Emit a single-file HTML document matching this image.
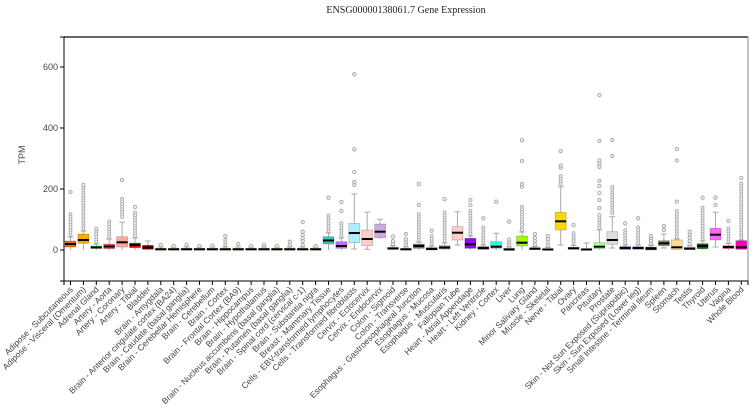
<!DOCTYPE html>
<html><head><meta charset="utf-8"><style>
html,body{margin:0;padding:0;background:#fff}
svg{display:block}
.w{stroke:#aaa;stroke-width:1;fill:none}
.m{stroke:#000;stroke-width:2;fill:none}
.o{stroke:#a8a8a8;stroke-width:3.8;stroke-linecap:round;stroke-dasharray:0 2.6;fill:none}
.oi{stroke:#ececec;stroke-width:2.2;stroke-linecap:round;stroke-dasharray:0 2.6;fill:none}
circle{fill:#ececec;stroke:#a8a8a8;stroke-width:0.9}
rect{stroke:rgba(0,0,0,0.25);stroke-width:0.7}
.t{stroke:#000;stroke-width:1;fill:none}
text.x{font-family:"Liberation Sans",sans-serif;font-size:8.5px;fill:#444;text-anchor:end}
text.y{font-family:"Liberation Sans",sans-serif;font-size:9px;fill:#444;text-anchor:end}
</style></head><body>
<svg width="754" height="413" viewBox="0 0 754 413" xmlns="http://www.w3.org/2000/svg">
<rect x="0" y="0" width="754" height="413" fill="#fff" style="stroke:none"/>
<text x="406" y="13" text-anchor="middle" style="font-family:'Liberation Serif',serif;font-size:10px;fill:#222">ENSG00000138061.7 Gene Expression</text>
<line x1="64" y1="37" x2="748" y2="37" stroke="#333" stroke-width="1.5"/>
<line x1="748" y1="37" x2="748" y2="281" stroke="#888" stroke-width="1"/>
<path class="t" d="M60 37H64V281H60M60 250H64M60 189H64M60 128H64M60 67H64"/>
<path class="t" d="M64 285V281H748V285"/>
<text class="y" x="58" y="253">0</text>
<text class="y" x="58" y="192">200</text>
<text class="y" x="58" y="131">400</text>
<text class="y" x="58" y="70">600</text>
<text transform="translate(25,155) rotate(-90)" text-anchor="middle" style="font-family:'Liberation Sans',sans-serif;font-size:9px;fill:#444">TPM</text>

<g transform="translate(70.5,0)"><path class="t" d="M0 281V285"/><path class="w" d="M0 237V241M0 247V250M-3 237H3"/><rect x="-5.5" y="241" width="11" height="6" fill="#FF6600"/><path class="m" d="M-5.5 244H5.5"/><path class="o" d="M0 235V213"/><path class="oi" d="M0 235V213"/><circle r="1.7" cx="0" cy="192"/><text class="x" transform="translate(3,290) rotate(-45)">Adipose - Subcutaneous</text></g>
<g transform="translate(83.4,0)"><path class="t" d="M0 281V285"/><path class="w" d="M0 231V234M0 243.3V250M-3 231H3"/><rect x="-5.5" y="234" width="11" height="9.3" fill="#FFAA00"/><path class="m" d="M-5.5 240H5.5"/><path class="o" d="M0 229V187"/><path class="oi" d="M0 229V187"/><circle r="1.7" cx="0" cy="185"/><text class="x" transform="translate(3,290) rotate(-45)">Adipose - Visceral (Omentum)</text></g>
<g transform="translate(96.3,0)"><path class="t" d="M0 281V285"/><path class="w" d="M0 244V246M0 248.3V250M-3 244H3"/><rect x="-5.5" y="246" width="11" height="2.3" fill="#33DD33"/><path class="m" d="M-5.5 247.5H5.5"/><path class="o" d="M0 242V231"/><path class="oi" d="M0 242V231"/><circle r="1.7" cx="0" cy="229"/><text class="x" transform="translate(3,290) rotate(-45)">Adrenal Gland</text></g>
<g transform="translate(109.2,0)"><path class="t" d="M0 281V285"/><path class="w" d="M0 239V244M0 248.7V250M-3 239H3"/><rect x="-5.5" y="244" width="11" height="4.7" fill="#FF5555"/><path class="m" d="M-5.5 246.5H5.5"/><path class="o" d="M0 237V219"/><path class="oi" d="M0 237V219"/><text class="x" transform="translate(3,290) rotate(-45)">Artery - Aorta</text></g>
<g transform="translate(122.1,0)"><path class="t" d="M0 281V285"/><path class="w" d="M0 222.3V236.7M0 247V250M-3 222.3H3"/><rect x="-5.5" y="236.7" width="11" height="10.3" fill="#FFAA99"/><path class="m" d="M-5.5 242.3H5.5"/><path class="o" d="M0 217V197"/><path class="oi" d="M0 217V197"/><circle r="1.7" cx="0" cy="180"/><text class="x" transform="translate(3,290) rotate(-45)">Artery - Coronary</text></g>
<g transform="translate(135,0)"><path class="t" d="M0 281V285"/><path class="w" d="M0 238V243M0 247.7V250M-3 238H3"/><rect x="-5.5" y="243" width="11" height="4.7" fill="#FF0000"/><path class="m" d="M-5.5 245H5.5"/><path class="o" d="M0 236V212"/><path class="oi" d="M0 236V212"/><circle r="1.7" cx="0" cy="207"/><text class="x" transform="translate(3,290) rotate(-45)">Artery - Tibial</text></g>
<g transform="translate(147.9,0)"><path class="t" d="M0 281V285"/><path class="w" d="M0 241V245.3M0 249.3V250M-3 241H3"/><rect x="-5.5" y="245.3" width="11" height="4" fill="#AA0000"/><path class="m" d="M-5.5 247.5H5.5"/><text class="x" transform="translate(3,290) rotate(-45)">Bladder</text></g>

<g transform="translate(160.8,0)"><path class="t" d="M0 281V285"/><path class="w" d="M0 247V248.3M-3 247H3"/><rect x="-5.5" y="248.3" width="11" height="1.7" fill="#EEEE00"/><path class="m" d="M-5.5 249.3H5.5"/><circle r="1.7" cx="0" cy="245"/><text class="x" transform="translate(3,290) rotate(-45)">Brain - Amygdala</text></g>
<g transform="translate(173.7,0)"><path class="t" d="M0 281V285"/><path class="w" d="M0 247V248.3M-3 247H3"/><rect x="-5.5" y="248.3" width="11" height="1.7" fill="#EEEE00"/><path class="m" d="M-5.5 249.3H5.5"/><circle r="1.7" cx="0" cy="246"/><text class="x" transform="translate(3,290) rotate(-45)">Brain - Anterior cingulate cortex (BA24)</text></g>
<g transform="translate(186.6,0)"><path class="t" d="M0 281V285"/><path class="w" d="M0 247V248.3M-3 247H3"/><rect x="-5.5" y="248.3" width="11" height="1.7" fill="#EEEE00"/><path class="m" d="M-5.5 249.3H5.5"/><circle r="1.7" cx="0" cy="244.7"/><text class="x" transform="translate(3,290) rotate(-45)">Brain - Caudate (basal ganglia)</text></g>
<g transform="translate(199.5,0)"><path class="t" d="M0 281V285"/><path class="w" d="M0 247V248.3M-3 247H3"/><rect x="-5.5" y="248.3" width="11" height="1.7" fill="#EEEE00"/><path class="m" d="M-5.5 249.3H5.5"/><circle r="1.7" cx="0" cy="246"/><text class="x" transform="translate(3,290) rotate(-45)">Brain - Cerebellar Hemisphere</text></g>
<g transform="translate(212.4,0)"><path class="t" d="M0 281V285"/><path class="w" d="M0 247V248.3M-3 247H3"/><rect x="-5.5" y="248.3" width="11" height="1.7" fill="#EEEE00"/><path class="m" d="M-5.5 249.3H5.5"/><circle r="1.7" cx="0" cy="245.5"/><text class="x" transform="translate(3,290) rotate(-45)">Brain - Cerebellum</text></g>
<g transform="translate(225.3,0)"><path class="t" d="M0 281V285"/><path class="w" d="M0 247V248.3M-3 247H3"/><rect x="-5.5" y="248.3" width="11" height="1.7" fill="#EEEE00"/><path class="m" d="M-5.5 249.3H5.5"/><path class="o" d="M0 245V238"/><path class="oi" d="M0 245V238"/><circle r="1.7" cx="0" cy="236"/><text class="x" transform="translate(3,290) rotate(-45)">Brain - Cortex</text></g>
<g transform="translate(238.2,0)"><path class="t" d="M0 281V285"/><path class="w" d="M0 247V248.3M-3 247H3"/><rect x="-5.5" y="248.3" width="11" height="1.7" fill="#EEEE00"/><path class="m" d="M-5.5 249.3H5.5"/><circle r="1.7" cx="0" cy="244"/><text class="x" transform="translate(3,290) rotate(-45)">Brain - Frontal Cortex (BA9)</text></g>
<g transform="translate(251.1,0)"><path class="t" d="M0 281V285"/><path class="w" d="M0 247V248.3M-3 247H3"/><rect x="-5.5" y="248.3" width="11" height="1.7" fill="#EEEE00"/><path class="m" d="M-5.5 249.3H5.5"/><circle r="1.7" cx="0" cy="246"/><text class="x" transform="translate(3,290) rotate(-45)">Brain - Hippocampus</text></g>
<g transform="translate(264,0)"><path class="t" d="M0 281V285"/><path class="w" d="M0 247V248.3M-3 247H3"/><rect x="-5.5" y="248.3" width="11" height="1.7" fill="#EEEE00"/><path class="m" d="M-5.5 249.3H5.5"/><circle r="1.7" cx="0" cy="245"/><text class="x" transform="translate(3,290) rotate(-45)">Brain - Hypothalamus</text></g>
<g transform="translate(276.9,0)"><path class="t" d="M0 281V285"/><path class="w" d="M0 247V248.3M-3 247H3"/><rect x="-5.5" y="248.3" width="11" height="1.7" fill="#EEEE00"/><path class="m" d="M-5.5 249.3H5.5"/><circle r="1.7" cx="0" cy="246"/><text class="x" transform="translate(3,290) rotate(-45)">Brain - Nucleus accumbens (basal ganglia)</text></g>
<g transform="translate(289.8,0)"><path class="t" d="M0 281V285"/><path class="w" d="M0 247V248.3M-3 247H3"/><rect x="-5.5" y="248.3" width="11" height="1.7" fill="#EEEE00"/><path class="m" d="M-5.5 249.3H5.5"/><circle r="1.7" cx="0" cy="245"/><circle r="1.7" cx="0" cy="241.7"/><text class="x" transform="translate(3,290) rotate(-45)">Brain - Putamen (basal ganglia)</text></g>
<g transform="translate(302.7,0)"><path class="t" d="M0 281V285"/><path class="w" d="M0 247V248.3M-3 247H3"/><rect x="-5.5" y="248.3" width="11" height="1.7" fill="#EEEE00"/><path class="m" d="M-5.5 249.3H5.5"/><circle r="1.7" cx="0" cy="245"/><circle r="1.7" cx="0" cy="241"/><circle r="1.7" cx="0" cy="238"/><circle r="1.7" cx="0" cy="235"/><circle r="1.7" cx="0" cy="231.7"/><circle r="1.7" cx="0" cy="222"/><text class="x" transform="translate(3,290) rotate(-45)">Brain - Spinal cord (cervical c-1)</text></g>
<g transform="translate(315.6,0)"><path class="t" d="M0 281V285"/><path class="w" d="M0 247V248.3M-3 247H3"/><rect x="-5.5" y="248.3" width="11" height="1.7" fill="#EEEE00"/><path class="m" d="M-5.5 249.3H5.5"/><circle r="1.7" cx="0" cy="246"/><text class="x" transform="translate(3,290) rotate(-45)">Brain - Substantia nigra</text></g>

<g transform="translate(328.5,0)"><path class="t" d="M0 281V285"/><path class="w" d="M0 233V236.7M0 244V250M-3 233H3"/><rect x="-5.5" y="236.7" width="11" height="7.3" fill="#33CCCC"/><path class="m" d="M-5.5 240.5H5.5"/><path class="o" d="M0 231V214"/><path class="oi" d="M0 231V214"/><circle r="1.7" cx="0" cy="197.7"/><text class="x" transform="translate(3,290) rotate(-45)">Breast - Mammary Tissue</text></g>
<g transform="translate(341.4,0)"><path class="t" d="M0 281V285"/><path class="w" d="M0 238V241.7M0 248.3V250M-3 238H3"/><rect x="-5.5" y="241.7" width="11" height="6.6" fill="#CC66FF"/><path class="m" d="M-5.5 246H5.5"/><path class="o" d="M0 236V223"/><path class="oi" d="M0 236V223"/><circle r="1.7" cx="0" cy="211"/><circle r="1.7" cx="0" cy="202"/><text class="x" transform="translate(3,290) rotate(-45)">Cells - EBV-transformed lymphocytes</text></g>
<g transform="translate(354.3,0)"><path class="t" d="M0 281V285"/><path class="w" d="M0 194V223.3M0 242.7V249M-3 194H3M-3 249H3"/><rect x="-5.5" y="223.3" width="11" height="19.4" fill="#AAEEFF"/><path class="m" d="M-5.5 233H5.5"/><circle r="1.7" cx="0" cy="185"/><circle r="1.7" cx="0" cy="182"/><circle r="1.7" cx="0" cy="172"/><circle r="1.7" cx="0" cy="149.3"/><circle r="1.7" cx="0" cy="74.3"/><text class="x" transform="translate(3,290) rotate(-45)">Cells - Transformed fibroblasts</text></g>
<g transform="translate(367.2,0)"><path class="t" d="M0 281V285"/><path class="w" d="M0 212.3V230M0 245.7V249.3M-3 212.3H3M-3 249.3H3"/><rect x="-5.5" y="230" width="11" height="15.7" fill="#FFCCCC"/><path class="m" d="M-5.5 239H5.5"/><text class="x" transform="translate(3,290) rotate(-45)">Cervix - Ectocervix</text></g>
<g transform="translate(380.1,0)"><path class="t" d="M0 281V285"/><path class="w" d="M0 219.3V224M0 237.7V239M-3 219.3H3"/><rect x="-5.5" y="224" width="11" height="13.7" fill="#CCAADD"/><path class="m" d="M-5.5 231.7H5.5"/><text class="x" transform="translate(3,290) rotate(-45)">Cervix - Endocervix</text></g>
<g transform="translate(393,0)"><path class="t" d="M0 281V285"/><path class="w" d="M0 246V247.3M-3 246H3"/><rect x="-5.5" y="247.3" width="11" height="2" fill="#EEBB77"/><path class="m" d="M-5.5 248.5H5.5"/><circle r="1.7" cx="0" cy="244"/><circle r="1.7" cx="0" cy="241"/><circle r="1.7" cx="0" cy="236.5"/><text class="x" transform="translate(3,290) rotate(-45)">Colon - Sigmoid</text></g>
<g transform="translate(405.9,0)"><path class="t" d="M0 281V285"/><path class="w" d="M0 247V248.5M-3 247H3"/><rect x="-5.5" y="248.5" width="11" height="1.5" fill="#CC9955"/><path class="m" d="M-5.5 249.3H5.5"/><circle r="1.7" cx="0" cy="245"/><circle r="1.7" cx="0" cy="242"/><circle r="1.7" cx="0" cy="239"/><circle r="1.7" cx="0" cy="234"/><text class="x" transform="translate(3,290) rotate(-45)">Colon - Transverse</text></g>
<g transform="translate(418.8,0)"><path class="t" d="M0 281V285"/><path class="w" d="M0 242V244M0 248.3V250M-3 242H3"/><rect x="-5.5" y="244" width="11" height="4.3" fill="#8B7355"/><path class="m" d="M-5.5 246H5.5"/><path class="o" d="M0 240V212"/><path class="oi" d="M0 240V212"/><circle r="1.7" cx="0" cy="205"/><circle r="1.7" cx="0" cy="184"/><text class="x" transform="translate(3,290) rotate(-45)">Esophagus - Gastroesophageal Junction</text></g>
<g transform="translate(431.7,0)"><path class="t" d="M0 281V285"/><path class="w" d="M0 246V247.7M-3 246H3"/><rect x="-5.5" y="247.7" width="11" height="2.3" fill="#552200"/><path class="m" d="M-5.5 249H5.5"/><path class="o" d="M0 244V236"/><path class="oi" d="M0 244V236"/><circle r="1.7" cx="0" cy="230.7"/><text class="x" transform="translate(3,290) rotate(-45)">Esophagus - Mucosa</text></g>
<g transform="translate(444.6,0)"><path class="t" d="M0 281V285"/><path class="w" d="M0 243V245.7M0 249V250M-3 243H3"/><rect x="-5.5" y="245.7" width="11" height="3.3" fill="#BB9988"/><path class="m" d="M-5.5 247.5H5.5"/><path class="o" d="M0 241V210"/><path class="oi" d="M0 241V210"/><circle r="1.7" cx="0" cy="199"/><text class="x" transform="translate(3,290) rotate(-45)">Esophagus - Muscularis</text></g>
<g transform="translate(457.5,0)"><path class="t" d="M0 281V285"/><path class="w" d="M0 211.7V226.7M0 240V245M-3 211.7H3M-3 245H3"/><rect x="-5.5" y="226.7" width="11" height="13.3" fill="#FFCCCC"/><path class="m" d="M-5.5 232.7H5.5"/><text class="x" transform="translate(3,290) rotate(-45)">Fallopian Tube</text></g>
<g transform="translate(470.4,0)"><path class="t" d="M0 281V285"/><path class="w" d="M0 236V238.3M0 248.3V250M-3 236H3"/><rect x="-5.5" y="238.3" width="11" height="10" fill="#9900FF"/><path class="m" d="M-5.5 244.3H5.5"/><path class="o" d="M0 234V210"/><path class="oi" d="M0 234V210"/><circle r="1.7" cx="0" cy="205"/><circle r="1.7" cx="0" cy="200"/><text class="x" transform="translate(3,290) rotate(-45)">Heart - Atrial Appendage</text></g>
<g transform="translate(483.3,0)"><path class="t" d="M0 281V285"/><path class="w" d="M0 245V246.7M-3 245H3"/><rect x="-5.5" y="246.7" width="11" height="2.6" fill="#660099"/><path class="m" d="M-5.5 248H5.5"/><path class="o" d="M0 243V225"/><path class="oi" d="M0 243V225"/><circle r="1.7" cx="0" cy="218.3"/><text class="x" transform="translate(3,290) rotate(-45)">Heart - Left Ventricle</text></g>
<g transform="translate(496.2,0)"><path class="t" d="M0 281V285"/><path class="w" d="M0 233.3V241.7M0 248.3V250M-3 233.3H3"/><rect x="-5.5" y="241.7" width="11" height="6.6" fill="#22FFDD"/><path class="m" d="M-5.5 246.7H5.5"/><circle r="1.7" cx="0" cy="201.7"/><text class="x" transform="translate(3,290) rotate(-45)">Kidney - Cortex</text></g>
<g transform="translate(509.1,0)"><path class="t" d="M0 281V285"/><path class="w" d="M0 247V248.3M-3 247H3"/><rect x="-5.5" y="248.3" width="11" height="1.7" fill="#AABB66"/><path class="m" d="M-5.5 249.5H5.5"/><circle r="1.7" cx="0" cy="245"/><circle r="1.7" cx="0" cy="242"/><circle r="1.7" cx="0" cy="239.5"/><circle r="1.7" cx="0" cy="221.7"/><text class="x" transform="translate(3,290) rotate(-45)">Liver</text></g>
<g transform="translate(522,0)"><path class="t" d="M0 281V285"/><path class="w" d="M0 232V236M0 246V250M-3 232H3"/><rect x="-5.5" y="236" width="11" height="10" fill="#99FF00"/><path class="m" d="M-5.5 242.7H5.5"/><path class="o" d="M0 230V205"/><path class="oi" d="M0 230V205"/><circle r="1.7" cx="0" cy="186.7"/><circle r="1.7" cx="0" cy="184"/><circle r="1.7" cx="0" cy="161"/><circle r="1.7" cx="0" cy="140.3"/><text class="x" transform="translate(3,290) rotate(-45)">Lung</text></g>
<g transform="translate(534.9,0)"><path class="t" d="M0 281V285"/><path class="w" d="M0 246.5V247.7M-3 246.5H3"/><rect x="-5.5" y="247.7" width="11" height="2" fill="#99BB88"/><path class="m" d="M-5.5 248.7H5.5"/><circle r="1.7" cx="0" cy="244.5"/><circle r="1.7" cx="0" cy="241"/><circle r="1.7" cx="0" cy="238"/><circle r="1.7" cx="0" cy="234"/><text class="x" transform="translate(3,290) rotate(-45)">Minor Salivary Gland</text></g>
<g transform="translate(547.8,0)"><path class="t" d="M0 281V285"/><path class="w" d="M0 247.5V248.7M-3 247.5H3"/><rect x="-5.5" y="248.7" width="11" height="1.3" fill="#AAAAFF"/><path class="m" d="M-5.5 249.5H5.5"/><circle r="1.7" cx="0" cy="245.5"/><circle r="1.7" cx="0" cy="242"/><circle r="1.7" cx="0" cy="239"/><circle r="1.7" cx="0" cy="236"/><text class="x" transform="translate(3,290) rotate(-45)">Muscle - Skeletal</text></g>
<g transform="translate(560.7,0)"><path class="t" d="M0 281V285"/><path class="w" d="M0 186.7V212.3M0 230V245M-3 186.7H3M-3 245H3"/><rect x="-5.5" y="212.3" width="11" height="17.7" fill="#FFD700"/><path class="m" d="M-5.5 221.3H5.5"/><path class="o" d="M0 184V174"/><path class="oi" d="M0 184V174"/><circle r="1.7" cx="0" cy="168"/><circle r="1.7" cx="0" cy="165.5"/><circle r="1.7" cx="0" cy="151"/><text class="x" transform="translate(3,290) rotate(-45)">Nerve - Tibial</text></g>
<g transform="translate(573.6,0)"><path class="t" d="M0 281V285"/><path class="w" d="M0 245.5V247.3M-3 245.5H3"/><rect x="-5.5" y="247.3" width="11" height="2" fill="#FFAAFF"/><path class="m" d="M-5.5 248.3H5.5"/><path class="o" d="M0 243.5V231"/><path class="oi" d="M0 243.5V231"/><circle r="1.7" cx="0" cy="225"/><text class="x" transform="translate(3,290) rotate(-45)">Ovary</text></g>
<g transform="translate(586.5,0)"><path class="t" d="M0 281V285"/><path class="w" d="M0 243V248.7M-3 243H3"/><rect x="-5.5" y="248.7" width="11" height="1.3" fill="#995522"/><path class="m" d="M-5.5 249.5H5.5"/><text class="x" transform="translate(3,290) rotate(-45)">Pancreas</text></g>
<g transform="translate(599.4,0)"><path class="t" d="M0 281V285"/><path class="w" d="M0 230V242.7M0 248.7V250M-3 230H3"/><rect x="-5.5" y="242.7" width="11" height="6" fill="#AAFF99"/><path class="m" d="M-5.5 246.7H5.5"/><path class="o" d="M0 228V213"/><path class="oi" d="M0 228V213"/><circle r="1.7" cx="0" cy="208"/><circle r="1.7" cx="0" cy="200"/><circle r="1.7" cx="0" cy="193"/><circle r="1.7" cx="0" cy="186"/><circle r="1.7" cx="0" cy="181"/><circle r="1.7" cx="0" cy="167"/><circle r="1.7" cx="0" cy="163.5"/><circle r="1.7" cx="0" cy="160.5"/><circle r="1.7" cx="0" cy="141"/><circle r="1.7" cx="0" cy="95"/><text class="x" transform="translate(3,290) rotate(-45)">Pituitary</text></g>
<g transform="translate(612.3,0)"><path class="t" d="M0 281V285"/><path class="w" d="M0 216.7V231.7M0 244.3V248M-3 216.7H3M-3 248H3"/><rect x="-5.5" y="231.7" width="11" height="12.6" fill="#DDDDDD"/><path class="m" d="M-5.5 240H5.5"/><path class="o" d="M0 213V187"/><path class="oi" d="M0 213V187"/><circle r="1.7" cx="0" cy="156"/><circle r="1.7" cx="0" cy="140"/><text class="x" transform="translate(3,290) rotate(-45)">Prostate</text></g>
<g transform="translate(625.2,0)"><path class="t" d="M0 281V285"/><path class="w" d="M0 245V246.7M-3 245H3"/><rect x="-5.5" y="246.7" width="11" height="2.6" fill="#0000FF"/><path class="m" d="M-5.5 248H5.5"/><path class="o" d="M0 243V229"/><path class="oi" d="M0 243V229"/><circle r="1.7" cx="0" cy="223.3"/><text class="x" transform="translate(3,290) rotate(-45)">Skin - Not Sun Exposed (Suprapubic)</text></g>
<g transform="translate(638.1,0)"><path class="t" d="M0 281V285"/><path class="w" d="M0 245V246.7M-3 245H3"/><rect x="-5.5" y="246.7" width="11" height="2.6" fill="#7777FF"/><path class="m" d="M-5.5 248H5.5"/><path class="o" d="M0 243V225"/><path class="oi" d="M0 243V225"/><circle r="1.7" cx="0" cy="218.3"/><text class="x" transform="translate(3,290) rotate(-45)">Skin - Sun Exposed (Lower leg)</text></g>
<g transform="translate(651,0)"><path class="t" d="M0 281V285"/><path class="w" d="M0 245.5V247M-3 245.5H3"/><rect x="-5.5" y="247" width="11" height="3" fill="#555522"/><path class="m" d="M-5.5 248.5H5.5"/><circle r="1.7" cx="0" cy="243.5"/><circle r="1.7" cx="0" cy="240.5"/><circle r="1.7" cx="0" cy="238"/><circle r="1.7" cx="0" cy="236"/><text class="x" transform="translate(3,290) rotate(-45)">Small Intestine - Terminal Ileum</text></g>
<g transform="translate(663.9,0)"><path class="t" d="M0 281V285"/><path class="w" d="M0 234V240.7M0 245.7V248M-3 234H3M-3 248H3"/><rect x="-5.5" y="240.7" width="11" height="5" fill="#778855"/><path class="m" d="M-5.5 243.3H5.5"/><circle r="1.7" cx="0" cy="230"/><circle r="1.7" cx="0" cy="226"/><text class="x" transform="translate(3,290) rotate(-45)">Spleen</text></g>
<g transform="translate(676.8,0)"><path class="t" d="M0 281V285"/><path class="w" d="M0 239V240M0 249.3V250M-3 239H3"/><rect x="-5.5" y="240" width="11" height="9.3" fill="#FFDD99"/><path class="m" d="M-5.5 247.3H5.5"/><path class="o" d="M0 237V210"/><path class="oi" d="M0 237V210"/><circle r="1.7" cx="0" cy="201.7"/><circle r="1.7" cx="0" cy="160.5"/><circle r="1.7" cx="0" cy="149"/><text class="x" transform="translate(3,290) rotate(-45)">Stomach</text></g>
<g transform="translate(689.7,0)"><path class="t" d="M0 281V285"/><path class="w" d="M0 246V247.3M-3 246H3"/><rect x="-5.5" y="247.3" width="11" height="2" fill="#AAAAAA"/><path class="m" d="M-5.5 248.7H5.5"/><circle r="1.7" cx="0" cy="244"/><circle r="1.7" cx="0" cy="241"/><circle r="1.7" cx="0" cy="238"/><circle r="1.7" cx="0" cy="234.5"/><circle r="1.7" cx="0" cy="231.7"/><text class="x" transform="translate(3,290) rotate(-45)">Testis</text></g>
<g transform="translate(702.6,0)"><path class="t" d="M0 281V285"/><path class="w" d="M0 241V243.7M0 248.7V250M-3 241H3"/><rect x="-5.5" y="243.7" width="11" height="5" fill="#006600"/><path class="m" d="M-5.5 246H5.5"/><path class="o" d="M0 239V207"/><path class="oi" d="M0 239V207"/><circle r="1.7" cx="0" cy="197.7"/><text class="x" transform="translate(3,290) rotate(-45)">Thyroid</text></g>
<g transform="translate(715.5,0)"><path class="t" d="M0 281V285"/><path class="w" d="M0 212.3V228.3M0 240V247M-3 212.3H3M-3 247H3"/><rect x="-5.5" y="228.3" width="11" height="11.7" fill="#FF66FF"/><path class="m" d="M-5.5 234.7H5.5"/><circle r="1.7" cx="0" cy="205"/><circle r="1.7" cx="0" cy="197.7"/><text class="x" transform="translate(3,290) rotate(-45)">Uterus</text></g>
<g transform="translate(728.4,0)"><path class="t" d="M0 281V285"/><path class="w" d="M0 243.5V245.7M0 248.7V250M-3 243.5H3"/><rect x="-5.5" y="245.7" width="11" height="3" fill="#FF5599"/><path class="m" d="M-5.5 247H5.5"/><path class="o" d="M0 241.5V228.3"/><path class="oi" d="M0 241.5V228.3"/><circle r="1.7" cx="0" cy="221"/><text class="x" transform="translate(3,290) rotate(-45)">Vagina</text></g>
<g transform="translate(741.3,0)"><path class="t" d="M0 281V285"/><path class="w" d="M0 240V240.7M0 249.3V250M-3 240H3"/><rect x="-5.5" y="240.7" width="11" height="8.6" fill="#FF00BB"/><path class="m" d="M-5.5 247.3H5.5"/><path class="o" d="M0 238V182"/><path class="oi" d="M0 238V182"/><circle r="1.7" cx="0" cy="178"/><text class="x" transform="translate(3,290) rotate(-45)">Whole Blood</text></g>
</svg>
</body></html>
